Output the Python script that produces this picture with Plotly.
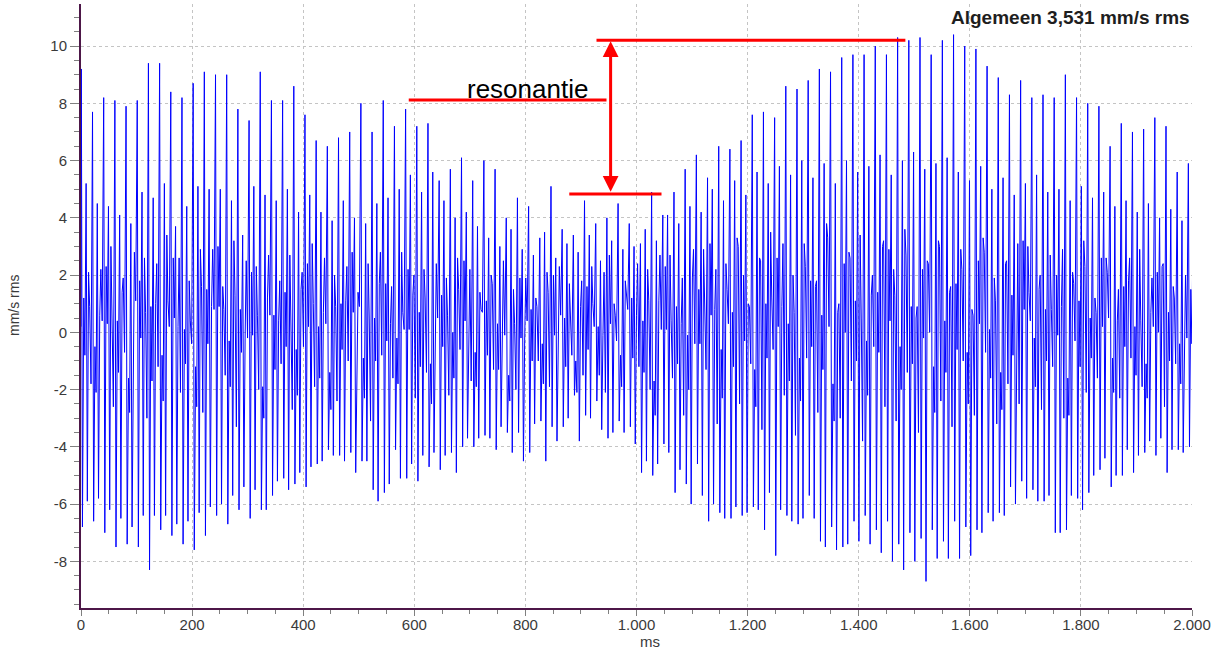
import plotly.graph_objects as go

# ---------------- data ----------------
x_tick_vals = [0, 200, 400, 600, 800, 1000, 1200, 1400, 1600, 1800, 2000]
x_tick_text = ["0", "200", "400", "600", "800", "1.000", "1.200", "1.400", "1.600", "1.800", "2.000"]
y_tick_vals = [-8, -6, -4, -2, 0, 2, 4, 6, 8, 10]
y_tick_text = ["-8", "-6", "-4", "-2", "0", "2", "4", "6", "8", "10"]

overall_label = "Algemeen 3,531 mm/s rms"
annot_label = "resonantie"

# one main positive peak per 20 ms shaft revolution (mm/s)
peak_hi = [9.2, 7.7, 8.2, 8.1, 7.9, 8.1, 9.4, 9.4, 8.4, 8.2,
           8.7, 9.1, 9.0, 9.0, 7.8, 7.4, 9.1, 8.1, 8.1, 8.6,
           7.6, 6.7, 6.5, 6.8, 7.0, 8.0, 7.0, 8.1, 7.2,
           7.8, 7.2, 7.3, 5.3, 5.7, 6.1, 5.3, 6.0, 5.7, 4.0,
           4.7, 4.4, 3.3, 5.1, 3.6, 3.4, 4.6, 3.8, 4.0, 4.5,
           3.8, 3.1, 4.9, 4.1, 4.9, 5.7, 6.2, 5.4, 6.5, 6.4,
           6.7, 7.6, 7.7, 7.5, 8.6, 8.5,
           8.8, 9.2, 9.1, 9.6, 9.7, 9.7, 10.0, 9.7, 10.3, 10.2,
           10.3, 9.7, 10.2, 10.4, 10.0, 9.9, 9.3, 8.9, 8.3, 8.8,
           8.2, 8.3, 8.2, 9.0, 8.2, 8.0, 7.9, 6.5, 7.3, 7.0,
           7.1, 7.5, 7.2, 5.6, 5.9]

# level the signal rebounds to after the first trough of each revolution
shoulder = [1.2, -0.5, 2.3, 0.4, -1.6, 1.8, 0.9, -0.8, 2.6, 0.1,
            -1.2, 1.5, 3.0, -0.3, 0.8, 2.1, -1.9, 0.6, 1.4, -0.6,
            2.4, 0.2, -1.4, 1.0, 2.8, -0.9, 0.5, 1.7, -0.2, 2.2,
            0.7, -1.1, 1.3, 0.0, 2.5, -0.7, 1.1, 0.3, -1.5, 1.9,
            0.8, -0.4, 2.0, 0.5, -1.0, 1.6, 0.2, 2.7, -0.8, 1.2,
            0.4, -1.7, 2.3, 0.9, -0.1, 1.5, 3.1, -0.6, 0.7, 2.0,
            -1.3, 1.0, 2.6, 0.3, -0.9, 1.8, 0.6, -1.8, 2.4, 1.1,
            -0.3, 1.4, 2.9, -0.5, 0.9, 2.2, -1.2, 0.4, 1.7, -0.7,
            2.5, 0.1, -1.4, 1.3, 3.2, -0.2, 0.8, 2.0, -1.6, 1.1,
            0.5, 2.6, -0.9, 1.6, 0.2, -1.1, 2.1, 0.7, -0.4, 1.5]

# small ripple low between the shoulder and the secondary peak
ripple_lo = [-0.8, -2.1, 0.3, -1.4, -2.8, -0.2, -1.7, -2.4, 0.5, -1.1,
             -2.6, -0.4, 0.9, -1.9, -0.7, -0.1, -3.0, -1.3, -0.5, -2.2,
             0.2, -1.6, -2.7, -0.6, 0.7, -2.3, -1.0, -0.3, -1.8, 0.1,
             -1.2, -2.5, -0.5, -1.6, 0.4, -1.9, -0.8, -1.3, -2.4, -0.2,
             -1.0, -1.8, -0.1, -1.2, -2.1, -0.6, -1.5, 0.3, -1.9, -0.9,
             -1.4, -2.9, 0.1, -1.1, -2.0, -0.4, 0.6, -2.3, -1.2, -0.3,
             -2.6, -0.9, 0.2, -1.7, -2.4, -0.5, -1.3, -3.1, 0.0, -1.0,
             -2.2, -0.7, 0.4, -2.0, -1.1, -0.2, -2.8, -1.4, -0.6, -2.5,
             0.3, -1.6, -2.7, -0.8, 0.8, -1.9, -1.0, -0.1, -2.9, -1.2,
             -0.9, 0.2, -2.1, -0.5, -1.5, -2.3, 0.0, -1.0, -1.8, -0.4]

# secondary positive peak inside each revolution
peak_mid = [5.2, 4.5, 4.4, 4.1, 3.8, 4.9, 4.7, 5.2, 3.7, 4.4,
            5.1, 5.0, 5.0, 4.6, 3.4, 5.1, 4.8, 4.6, 5.0, 4.2,
            4.8, 4.2, 3.9, 4.6, 4.0, 3.8, 4.5, 4.7, 5.0,
            5.5, 4.9, 5.6, 4.6, 4.0, 4.2, 3.7,
            3.3, 3.0, 3.6, 2.9, 2.7, 3.5, 2.6, 3.1, 2.8, 3.4,
            2.5, 3.2, 2.9, 3.0,
            3.6, 3.2, 4.1, 3.8, 4.4, 4.2, 5.0, 4.6, 5.3, 4.8,
            5.6, 5.2, 5.8, 5.5, 6.0,
            5.4, 5.9, 5.2, 6.0, 5.6, 5.8, 6.2, 5.5, 6.0, 6.3,
            5.7, 5.9, 6.1, 5.6, 5.3, 5.8,
            5.0, 5.4, 4.8, 5.2, 5.5, 4.9, 5.0, 4.6, 5.1, 4.7,
            4.9, 4.4, 4.6, 4.2, 4.5, 4.0, 4.3, 3.9, 4.5]

# small rebound after the second trough
dip = [2.1, 0.6, 3.0, 1.4, -0.4, 2.6, 1.0, 3.4, 0.2, 1.8,
       2.9, 0.9, 1.6, 3.2, -0.2, 2.3, 1.2, 0.4, 2.7, 1.5,
       3.1, 0.7, 2.0, 1.1, -0.6, 2.4, 1.7, 0.3, 2.8, 1.3,
       2.2, 0.5, 1.9, 2.6, 0.1, 1.4, 2.0, 0.8, 1.5, -0.3,
       1.2, 2.1, 0.4, 1.7, 0.9, 2.3, -0.1, 1.0, 1.8, 0.6,
       2.2, 1.1, 2.7, 0.3, 1.9, 2.9, 0.8, 2.4, 3.3, 1.0,
       2.6, 3.5, 0.9, 2.0, 3.1, 1.6, 3.8, 0.7, 2.8, 3.4,
       1.3, 3.0, 2.2, 3.6, 0.5, 2.5, 3.2, 1.4, 2.9, 0.8,
       3.3, 1.9, 2.4, 0.6, 3.0, 1.5, 2.7, 0.9, 2.1, 3.2,
       1.2, 2.6, 0.4, 1.8, 2.9, 0.7, 2.3, 1.6, 0.3, 2.0]

# small ripple high between the rebound and the pre-peak level
ripple_hi = [0.9, 2.2, 0.5, 1.9, 2.8, 0.7, 2.4, 1.1, 2.6, 0.4,
             1.6, 2.9, 0.8, 1.3, 2.5, 0.6, 2.7, 1.8, 0.3, 2.1,
             1.0, 2.6, 0.9, 2.3, 1.4, 0.5, 2.8, 1.6, 0.7, 2.0,
             1.2, 2.4, 0.6, 1.5, 2.2, 0.8, 1.7, 2.5, 0.3, 1.9,
             0.9, 1.4, 2.3, 0.5, 1.8, 1.0, 2.1, 0.6, 1.3, 2.4,
             1.1, 2.7, 0.4, 1.9, 2.9, 0.8, 2.2, 1.5, 3.0, 0.9,
             2.5, 1.2, 3.1, 0.7, 2.3, 1.8, 3.3, 1.0, 2.6, 0.5,
             2.0, 3.2, 1.3, 2.7, 0.9, 2.4, 3.0, 1.6, 2.2, 0.6,
             2.8, 1.1, 2.5, 3.1, 1.4, 2.0, 0.8, 2.9, 1.7, 2.3,
             0.7, 2.1, 1.5, 2.6, 0.4, 1.9, 2.4, 1.2, 2.0, 0.8]

# level just before the next main peak
pre = [-1.8, 0.4, -2.6, -0.7, 1.1, -3.0, -1.2, 0.2, -2.1, -0.4,
       -2.8, 0.8, -1.5, -3.3, -0.2, -2.0, 0.6, -1.1, -2.7, -0.5,
       -1.9, 0.3, -2.4, -1.0, 0.9, -3.1, -0.8, -1.6, 0.1, -2.3,
       -1.4, 0.5, -2.2, -0.6, -1.7, 0.7, -1.3, -0.1, -2.0, 0.4,
       -1.0, -1.9, 0.6, -0.8, -1.5, 0.2, -2.1, -0.3, 0.8, -1.2,
       -2.0, 0.1, -1.6, -2.9, -0.4, -1.3, -3.2, 0.3, -2.5, -1.1,
       -3.4, -0.6, -2.2, -3.6, -0.9, -2.8, 0.2, -3.0, -1.7, -3.8,
       -0.5, -2.6, -3.1, -1.4, -3.5, 0.0, -2.4, -3.3, -1.0, -2.9,
       -0.7, -3.2, -1.8, -2.5, 0.4, -2.7, -1.2, -3.0, -0.3, -2.1,
       -1.6, 0.5, -2.3, -0.9, -1.9, 0.2, -2.6, -1.1, -0.2, -1.4]

# two negative troughs per revolution (mm/s)
trough = [-6.8, -5.9, -6.6, -5.8, -7.0, -6.2, -7.5, -6.5, -7.4, -6.8,
          -7.5, -6.4, -8.3, -6.4, -6.9, -6.4, -7.1, -6.7, -7.4, -6.6,
          -7.6, -6.3, -7.1, -6.1, -6.4, -6.0, -6.7, -5.7, -6.2, -5.4,
          -6.5, -5.5, -6.2, -6.2, -5.7, -5.2, -5.1, -5.5, -5.3, -4.9,
          -5.4, -4.7, -4.6, -4.5, -4.1, -4.3, -4.3, -4.5, -4.2, -4.9,
          -4.5, -4.5, -5.5, -5.9, -5.6, -5.3, -4.1,
          -5.1, -5.1, -4.6, -5.2, -4.3, -4.7, -4.2, -4.8, -4.3, -4.2,
          -4.9, -4.0, -3.7, -4.0, -3.7, -3.6, -3.7, -4.1, -3.3, -3.5,
          -4.2, -3.5, -4.5, -4.2, -3.2, -3.1, -4.5, -3.3, -3.8, -3.3,
          -3.0, -2.2, -3.8, -2.9, -3.0, -2.4, -3.4, -3.7, -3.5, -3.1,
          -3.5, -3.3, -3.9, -4.9, -4.5, -5.0, -4.6, -3.9, -4.2, -5.6,
          -4.8, -5.3, -6.0, -4.6, -5.7, -6.6, -6.0, -6.3, -6.5, -6.5,
          -6.1, -6.4, -6.3, -6.1, -6.2, -6.9, -5.6, -7.8, -6.2, -6.4,
          -6.6, -6.7,
          -6.5, -5.7, -6.5, -7.3, -7.5, -6.8, -7.6, -7.5, -7.4, -6.6,
          -7.3, -6.4, -7.4, -6.9, -7.7, -6.6, -8.0, -7.4, -8.3, -7.0,
          -8.0, -7.2, -8.7, -6.9, -7.9, -7.3, -7.9, -6.6, -7.9, -6.8,
          -7.8, -6.9, -7.0, -6.3, -6.6, -6.3, -6.4, -5.4, -6.0, -5.2,
          -5.8, -5.5, -5.9, -5.9, -5.7, -7.0, -7.0, -6.9, -5.7, -5.8,
          -6.2, -5.6, -5.0, -4.8, -4.4, -5.4, -5.0, -5.0, -4.1, -4.9,
          -4.3, -4.2, -3.8, -4.3, -3.7, -4.9, -4.1, -4.1, -4.2, -4.0,
          -4.0]

start_value = 0.2
cycle_start_ms = 0.6
cycle_ms = 20.13

for arr in (peak_hi, shoulder, ripple_lo, peak_mid, dip, ripple_hi, pre):
    assert len(arr) == 100, len(arr)
assert len(trough) == 200, len(trough)

# sample times inside one revolution (ms after the main peak)
offsets = [0.0, 2.0, 4.4, 6.4, 8.6, 10.8, 13.0, 15.0, 17.4]

t_ms = [0.0]
vel = [start_value]
for i in range(len(peak_hi)):
    T = cycle_start_ms + cycle_ms * i
    t_ms += [T + o for o in offsets]
    vel += [peak_hi[i], trough[2 * i], shoulder[i], ripple_lo[i], peak_mid[i],
            trough[2 * i + 1], dip[i], ripple_hi[i], pre[i]]

# ---------------- figure ----------------
fig = go.Figure()
fig.add_trace(go.Scatter(x=t_ms, y=vel, mode="lines",
                         line=dict(color="#0000ff", width=1),
                         hoverinfo="skip", showlegend=False))

GRID = "#c4c4c4"
AXIS = "#4d1748"
TICKC = "#808080"
TXT = "#3a3a3a"
FONT = "Arial, Liberation Sans, sans-serif"

fig.update_layout(
    width=1211, height=652,
    margin=dict(l=81, r=19, t=4, b=44, autoexpand=False),
    paper_bgcolor="white", plot_bgcolor="white",
    font=dict(family=FONT, size=15, color=TXT),
    showlegend=False,
)
fig.update_xaxes(
    range=[0, 2000], tickmode="array", tickvals=x_tick_vals, ticktext=x_tick_text,
    automargin=False,
    showgrid=True, gridcolor=GRID, gridwidth=1, griddash="3px,3px",
    showline=True, linecolor=AXIS, linewidth=2, zeroline=False,
    ticks="outside", ticklen=6, tickwidth=1, tickcolor=TICKC,
    minor=dict(tickmode="array", tickvals=list(range(0, 2001, 50)), ticks="outside",
               ticklen=4, tickwidth=1, tickcolor=TICKC, showgrid=False),
    tickfont=dict(size=15, color=TXT),
    ticklabelstandoff=-4,
)
fig.update_yaxes(
    range=[-9.63, 11.47], tickmode="array", tickvals=y_tick_vals, ticktext=y_tick_text,
    automargin=False,
    showgrid=True, gridcolor=GRID, gridwidth=1, griddash="3px,3px",
    showline=True, linecolor=AXIS, linewidth=2, zeroline=False,
    ticks="outside", ticklen=9, tickwidth=1, tickcolor=TICKC,
    minor=dict(tickmode="array", tickvals=[v / 2 for v in range(-19, 23)], ticks="outside",
               ticklen=5, tickwidth=1, tickcolor=TICKC, showgrid=False),
    tickfont=dict(size=15, color=TXT),
)

# axis titles and overall value
fig.add_annotation(text="mm/s rms", xref="paper", yref="paper", x=-0.0603, y=0.5,
                   textangle=-90, showarrow=False, xanchor="center", yanchor="middle",
                   font=dict(family=FONT, size=14, color=TXT))
fig.add_annotation(text="ms", xref="paper", yref="paper", x=0.512, y=-0.056,
                   showarrow=False, xanchor="center", yanchor="middle",
                   font=dict(family=FONT, size=15, color=TXT))
fig.add_annotation(text="<b>" + overall_label + "</b>", xref="paper", yref="paper",
                   x=1.0, y=0.977, showarrow=False, xanchor="right", yanchor="middle",
                   font=dict(family=FONT, size=19, color="#1e1e1e"))

# red resonance markup
RED = "#ff0000"
fig.add_shape(type="line", xref="x", yref="y", x0=928, x1=1484, y0=10.2, y1=10.2,
              line=dict(color=RED, width=3))
fig.add_shape(type="line", xref="x", yref="y", x0=590, x1=946, y0=8.12, y1=8.12,
              line=dict(color=RED, width=3))
fig.add_shape(type="line", xref="x", yref="y", x0=879, x1=1045, y0=4.83, y1=4.83,
              line=dict(color=RED, width=3))
fig.add_annotation(x=953.4, y=10.17, ax=953.4, ay=4.86, xref="x", yref="y",
                   axref="x", ayref="y", text="", showarrow=True,
                   arrowhead=2, startarrowhead=2, arrowside="end+start",
                   arrowsize=1.05, startarrowsize=1.05, arrowwidth=3, arrowcolor=RED)
fig.add_annotation(text=annot_label, x=803, y=8.5, xref="x", yref="y", showarrow=False,
                   xanchor="center", yanchor="middle",
                   font=dict(family=FONT, size=26, color="#000000"))

fig.write_html("out.html", config={"displayModeBar": False},
               post_script="document.body.style.margin='0';document.body.style.overflow='hidden';")
